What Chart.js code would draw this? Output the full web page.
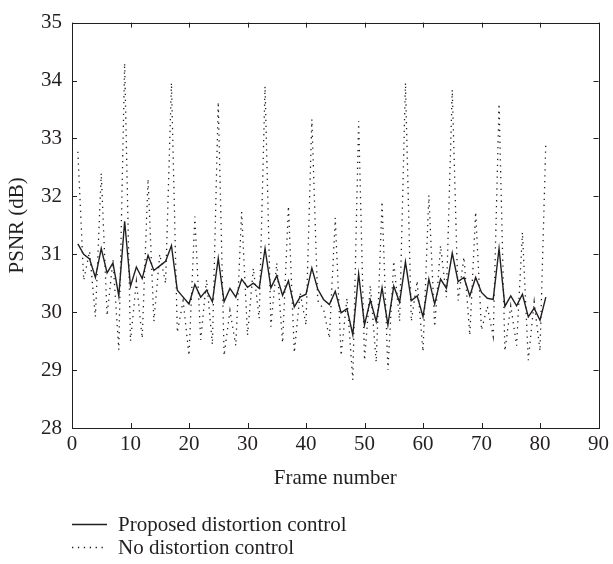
<!DOCTYPE html>
<html>
<head>
<meta charset="utf-8">
<title>PSNR per frame</title>
<script src="https://cdn.jsdelivr.net/npm/chart.js@4.4.1/dist/chart.umd.min.js"></script>
<style>
  html, body { margin: 0; padding: 0; background: #fff; }
  #wrap { width: 613px; height: 564px; }
</style>
</head>
<body>
<div id="wrap"><canvas id="psnrChart" width="613" height="564"></canvas></div>
<script>
// --- data (frame 1..81) ---
const frames = Array.from({ length: 81 }, (_, i) => i + 1);

const proposed = [
  31.18, 31.00, 30.92, 30.60, 31.10, 30.68, 30.85, 30.28, 31.57, 30.45,
  30.78, 30.58, 30.98, 30.72, 30.80, 30.88, 31.15, 30.38, 30.26, 30.14,
  30.48, 30.26, 30.38, 30.18, 30.93, 30.18, 30.41, 30.26, 30.57, 30.43,
  30.50, 30.41, 31.10, 30.42, 30.63, 30.29, 30.54, 30.09, 30.26, 30.31,
  30.76, 30.40, 30.22, 30.13, 30.36, 29.99, 30.06, 29.61, 30.66, 29.78,
  30.21, 29.84, 30.42, 29.78, 30.45, 30.17, 30.87, 30.20, 30.28, 29.92,
  30.57, 30.14, 30.57, 30.41, 31.02, 30.53, 30.60, 30.28, 30.60, 30.34,
  30.24, 30.22, 31.10, 30.10, 30.28, 30.11, 30.31, 29.92, 30.07, 29.86,
  30.26
];

const noControl = [
  32.77, 30.55, 31.05, 29.92, 32.40, 29.94, 30.90, 29.35, 34.30, 29.50,
  30.53, 29.55, 32.30, 29.84, 31.00, 30.50, 33.96, 29.65, 30.20, 29.25,
  31.65, 29.52, 30.56, 29.44, 33.63, 29.25, 30.03, 29.42, 31.73, 29.60,
  30.76, 29.89, 33.90, 29.75, 30.85, 29.47, 31.83, 29.30, 30.34, 29.78,
  33.33, 30.20, 30.05, 29.55, 31.63, 29.25, 30.24, 28.83, 33.30, 29.17,
  30.46, 29.14, 31.91, 29.00, 30.88, 29.84, 33.96, 29.84, 30.54, 29.32,
  32.02, 29.75, 31.15, 30.26, 33.84, 30.20, 30.95, 29.60, 31.73, 29.69,
  30.10, 29.58, 33.60, 29.33, 30.11, 29.42, 31.38, 29.17, 30.18, 29.33,
  32.94
];

const xTicks = [0, 10, 20, 30, 40, 50, 60, 70, 80, 90];
const yTicks = [28, 29, 30, 31, 32, 33, 34, 35];
const seriesNames = ['Proposed distortion control', 'No distortion control'];

const INK = '#231f20';
const FONT_FAMILY = '"Liberation Serif", "Times New Roman", serif';
const FONT_SIZE = 21;
const DOTS = [1.3, 4.6];

// box round the plot area + inward tick marks on all four sides
const framePlugin = {
  id: 'frameBox',
  afterDraw(chart) {
    const { ctx, chartArea: a, scales } = chart;
    const len = 5;
    ctx.save();
    ctx.strokeStyle = INK;
    ctx.lineWidth = 1;
    ctx.strokeRect(Math.round(a.left) + 0.5, Math.round(a.top) + 0.5,
                   Math.round(a.right - a.left), Math.round(a.bottom - a.top));
    ctx.beginPath();
    xTicks.forEach(v => {
      const px = Math.round(scales.x.getPixelForValue(v)) + 0.5;
      ctx.moveTo(px, a.bottom); ctx.lineTo(px, a.bottom - len);
      ctx.moveTo(px, a.top); ctx.lineTo(px, a.top + len);
    });
    yTicks.forEach(v => {
      const py = Math.round(scales.y.getPixelForValue(v)) + 0.5;
      ctx.moveTo(a.left, py); ctx.lineTo(a.left + len, py);
      ctx.moveTo(a.right, py); ctx.lineTo(a.right - len, py);
    });
    ctx.stroke();
    ctx.restore();
  }
};

// legend under the axis title, drawn like the original (line sample + label)
const legendPlugin = {
  id: 'bottomLegend',
  afterDraw(chart) {
    const { ctx } = chart;
    const rows = [
      { y: 524, dash: [] },
      { y: 547, dash: DOTS }
    ];
    ctx.save();
    ctx.font = FONT_SIZE + 'px ' + FONT_FAMILY;
    ctx.fillStyle = INK;
    ctx.textBaseline = 'middle';
    rows.forEach((r, i) => {
      ctx.beginPath();
      ctx.setLineDash(r.dash);
      ctx.strokeStyle = INK;
      ctx.lineWidth = i === 0 ? 1.4 : 1.3;
      ctx.moveTo(72, r.y + 0.5);
      ctx.lineTo(107, r.y + 0.5);
      ctx.stroke();
      ctx.setLineDash([]);
      ctx.fillText(seriesNames[i], 118, r.y + 1);
    });
    ctx.restore();
  }
};

const ctx = document.getElementById('psnrChart').getContext('2d');

window.psnrChart = new Chart(ctx, {
  type: 'line',
  data: {
    datasets: [
      {
        label: seriesNames[0],
        data: frames.map((f, i) => ({ x: f, y: proposed[i] })),
        borderColor: INK,
        borderWidth: 1.4,
        pointRadius: 0,
        tension: 0,
        fill: false
      },
      {
        label: seriesNames[1],
        data: frames.map((f, i) => ({ x: f, y: noControl[i] })),
        borderColor: INK,
        borderWidth: 1.3,
        borderDash: DOTS,
        pointRadius: 0,
        tension: 0,
        fill: false
      }
    ]
  },
  options: {
    responsive: false,
    animation: false,
    devicePixelRatio: 1,
    layout: { padding: { top: 10, right: 11, left: 0, bottom: 0 } },
    plugins: {
      legend: { display: false },
      tooltip: { enabled: false }
    },
    scales: {
      x: {
        type: 'linear',
        min: 0,
        max: 90,
        afterBuildTicks: s => { s.ticks = xTicks.map(v => ({ value: v })); },
        afterFit: s => { s.height = 136; },
        grid: { display: false, drawTicks: false },
        border: { display: false },
        ticks: {
          color: INK,
          padding: 4,
          maxRotation: 0,
          font: { family: FONT_FAMILY, size: FONT_SIZE }
        },
        title: {
          display: true,
          text: 'Frame number',
          color: INK,
          font: { family: FONT_FAMILY, size: FONT_SIZE },
          padding: { top: 4, bottom: 73 }
        }
      },
      y: {
        type: 'linear',
        min: 28,
        max: 35,
        afterBuildTicks: s => { s.ticks = yTicks.map(v => ({ value: v })); },
        afterFit: s => { s.width = 72; },
        grid: { display: false, drawTicks: false },
        border: { display: false },
        ticks: {
          color: INK,
          padding: 10,
          font: { family: FONT_FAMILY, size: FONT_SIZE }
        },
        title: {
          display: true,
          text: 'PSNR (dB)',
          color: INK,
          font: { family: FONT_FAMILY, size: FONT_SIZE },
          padding: { top: 5, bottom: 0 }
        }
      }
    }
  },
  plugins: [framePlugin, legendPlugin]
});
</script>
</body>
</html>
